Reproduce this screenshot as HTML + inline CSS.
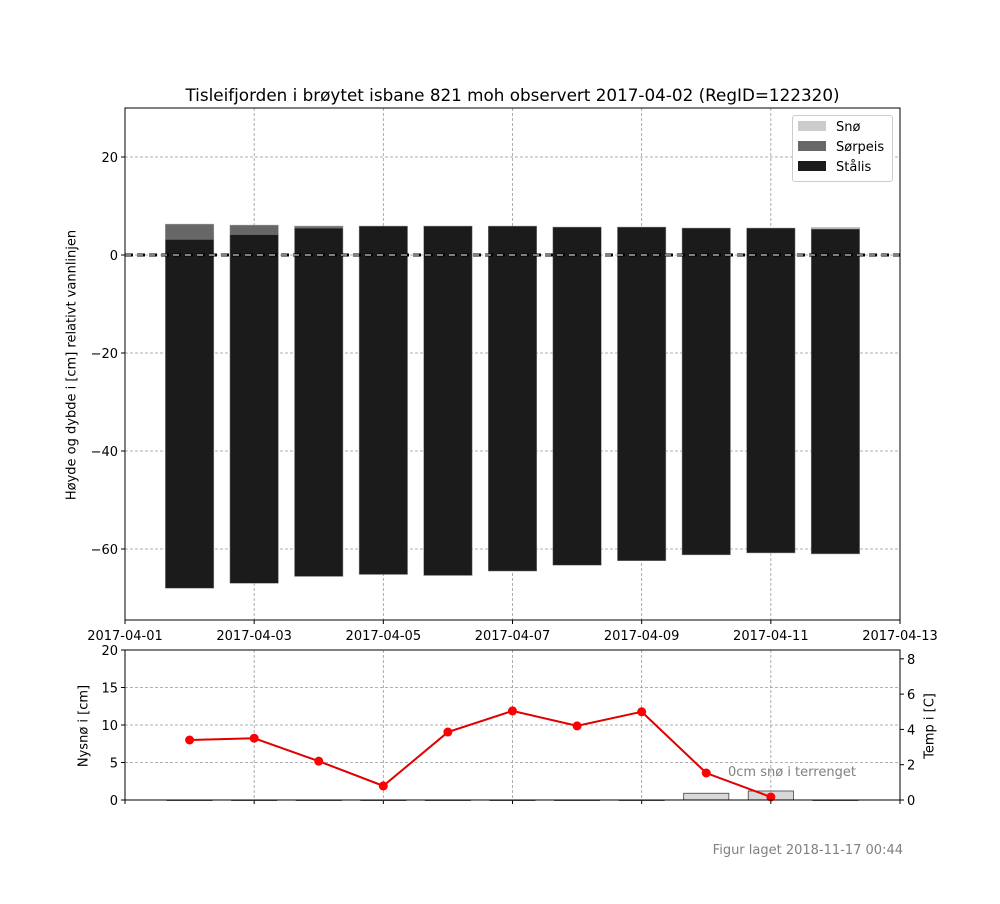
<!DOCTYPE html>
<html><head><meta charset="utf-8"><style>
body{margin:0;background:#fff;font-family:"DejaVu Sans","Liberation Sans",sans-serif;}
svg text{font-family:"DejaVu Sans","Liberation Sans",sans-serif;}
</style></head><body>
<svg id="c" width="1000" height="900" xmlns="http://www.w3.org/2000/svg"></svg>
<script>
const days=[2,3,4,5,6,7,8,9,10,11,12];
const iceBottom=[-68,-67,-65.6,-65.2,-65.4,-64.5,-63.3,-62.4,-61.2,-60.8,-61];
const stalisTop=[3.2,4.2,5.5,5.9,5.9,5.9,5.7,5.7,5.5,5.5,5.3];
const sorpeisTop=[6.3,6.1,5.9,5.9,5.9,5.9,5.7,5.7,5.5,5.5,5.3];
const snowTop=[6.3,6.1,5.9,5.9,5.9,5.9,5.7,5.7,5.5,5.5,5.6];
const newSnow=[0,0,0,0,0,0,0,0,0.9,1.2,0];
const temps=[3.4,3.5,2.2,0.8,3.85,5.05,4.2,5.0,1.53,0.17];
const xTickLabels=["2017-04-01","2017-04-03","2017-04-05","2017-04-07","2017-04-09","2017-04-11","2017-04-13"];
const yTicksTop=[20,0,-20,-40,-60];
const yTicksLeft=[0,5,10,15,20];
const yTicksRight=[0,2,4,6,8];
const NS="http://www.w3.org/2000/svg",svg=document.getElementById('c');
function el(t,a,txt){const e=document.createElementNS(NS,t);for(const k in a)e.setAttribute(k,a[k]);if(txt!=null)e.textContent=txt;svg.appendChild(e);return e;}
const X0=125,X1=900;
const x=d=>X0+(d-1)/12*(X1-X0);
const yT=v=>255-v*4.9;
const yL=v=>800-v*7.5;
const yR=v=>800-v*150/8.5;
const bw=0.75*(X1-X0)/12;
for(let i=0;i<xTickLabels.length;i++){const xx=x(1+2*i);
 el('line',{x1:xx,x2:xx,y1:108,y2:620,stroke:'#999','stroke-dasharray':'3,2','stroke-width':0.8});
 el('line',{x1:xx,x2:xx,y1:650,y2:800,stroke:'#999','stroke-dasharray':'3,2','stroke-width':0.8});
 const t=el('text',{x:xx,y:640,'text-anchor':'middle','font-size':13},xTickLabels[i]);
 
 el('line',{x1:xx,x2:xx,y1:620,y2:624,stroke:'#000'});el('line',{x1:xx,x2:xx,y1:800,y2:804,stroke:'#000'});}
yTicksTop.forEach(v=>{const yy=yT(v);el('line',{x1:X0,x2:X1,y1:yy,y2:yy,stroke:'#999','stroke-dasharray':'3,2','stroke-width':0.8});
 el('line',{x1:X0-4,x2:X0,y1:yy,y2:yy,stroke:'#000'});
 const t=el('text',{x:X0-7,y:yy+5,'text-anchor':'end','font-size':13},v<0?'\u2212'+(-v):v);
 });
yTicksLeft.forEach(v=>{const yy=yL(v);if(v>0&&v<20)el('line',{x1:X0,x2:X1,y1:yy,y2:yy,stroke:'#999','stroke-dasharray':'3,2','stroke-width':0.8});
 el('line',{x1:X0-4,x2:X0,y1:yy,y2:yy,stroke:'#000'});
 el('text',{x:X0-7,y:yy+5,'text-anchor':'end','font-size':13},v);});
yTicksRight.forEach(v=>{const yy=yR(v);el('line',{x1:X1,x2:X1+4,y1:yy,y2:yy,stroke:'#000'});
 el('text',{x:X1+7,y:yy+5,'font-size':13},v);});
days.forEach((d,i)=>{const l=x(d)-bw/2;
 let r=el('rect',{x:l,y:yT(snowTop[i]),width:bw,height:yT(sorpeisTop[i])-yT(snowTop[i]),fill:'#cccccc',stroke:'#999','stroke-width':0.5});
 
 r=el('rect',{x:l,y:yT(sorpeisTop[i]),width:bw,height:yT(stalisTop[i])-yT(sorpeisTop[i]),fill:'#676767',stroke:'#999','stroke-width':0.5});
 
 r=el('rect',{x:l,y:yT(stalisTop[i]),width:bw,height:yT(iceBottom[i])-yT(stalisTop[i]),fill:'#1b1b1b',stroke:'#888','stroke-width':0.5});
 });
el('line',{x1:X0,x2:X1,y1:yT(0),y2:yT(0),stroke:'#000','stroke-width':3,'stroke-dasharray':'8,4'});
el('line',{x1:X0,x2:X1,y1:yT(0),y2:yT(0),stroke:'#fff','stroke-width':1,'stroke-dasharray':'6,6'});
days.slice(0,11).forEach((d,i)=>{const bw2=0.7*(X1-X0)/12;
 const r=el('rect',{x:x(d)-bw2/2,y:yL(newSnow[i]),width:bw2,height:Math.max(0.5,yL(0)-yL(newSnow[i])),fill:'#d8d8d8',stroke:'#444','stroke-width':0.8});
 });
const pts=temps.map((t,i)=>x(days[i])+','+yR(t)).join(' ');
const pl=el('polyline',{points:pts,fill:'none',stroke:'#e00000','stroke-width':2});

temps.forEach((t,i)=>{const c=el('circle',{cx:x(days[i]),cy:yR(t),r:4.5,fill:'#ff0000'});
 });
el('rect',{x:X0,y:108,width:X1-X0,height:512,fill:'none',stroke:'#000'});
el('rect',{x:X0,y:650,width:X1-X0,height:150,fill:'none',stroke:'#000'});
</script>
<div style="position:absolute;left:0;top:0;width:1000px;height:900px;pointer-events:none">
<div style="position:absolute;left:100px;width:825px;top:85px;text-align:center;font-size:16.8px;white-space:nowrap">Tisleifjorden i brøytet isbane 821 moh observert 2017-04-02 (RegID=122320)</div>
<div style="position:absolute;left:72px;top:365px;font-size:13px;transform:translate(-50%,-50%) rotate(-90deg);white-space:nowrap">Høyde og dybde i [cm] relativt vannlinjen</div>
<div style="position:absolute;left:84px;top:726px;font-size:13px;transform:translate(-50%,-50%) rotate(-90deg);white-space:nowrap">Nysnø i [cm]</div>
<div style="position:absolute;left:930px;top:726px;font-size:13px;transform:translate(-50%,-50%) rotate(-90deg);white-space:nowrap">Temp i [C]</div>
<div style="position:absolute;left:792px;top:115px;width:99px;height:65px;border:1px solid #ccc;border-radius:3px;background:#fff;font-size:13px">
 <div style="position:absolute;left:5px;top:4px;white-space:nowrap"><span style="display:inline-block;width:28px;height:10px;background:#ccc;margin-right:10px"></span>Snø</div>
 <div style="position:absolute;left:5px;top:24px;white-space:nowrap"><span style="display:inline-block;width:28px;height:10px;background:#676767;margin-right:10px"></span>Sørpeis</div>
 <div style="position:absolute;left:5px;top:44px;white-space:nowrap"><span style="display:inline-block;width:28px;height:10px;background:#1b1b1b;margin-right:10px"></span>Stålis</div>
</div>
<div style="position:absolute;left:728px;top:765px;font-size:13px;color:#808080">0cm snø i terrenget</div>
<div style="position:absolute;right:97px;top:843px;font-size:13px;color:#808080">Figur laget 2018-11-17 00:44</div>
</div>
</body></html>
